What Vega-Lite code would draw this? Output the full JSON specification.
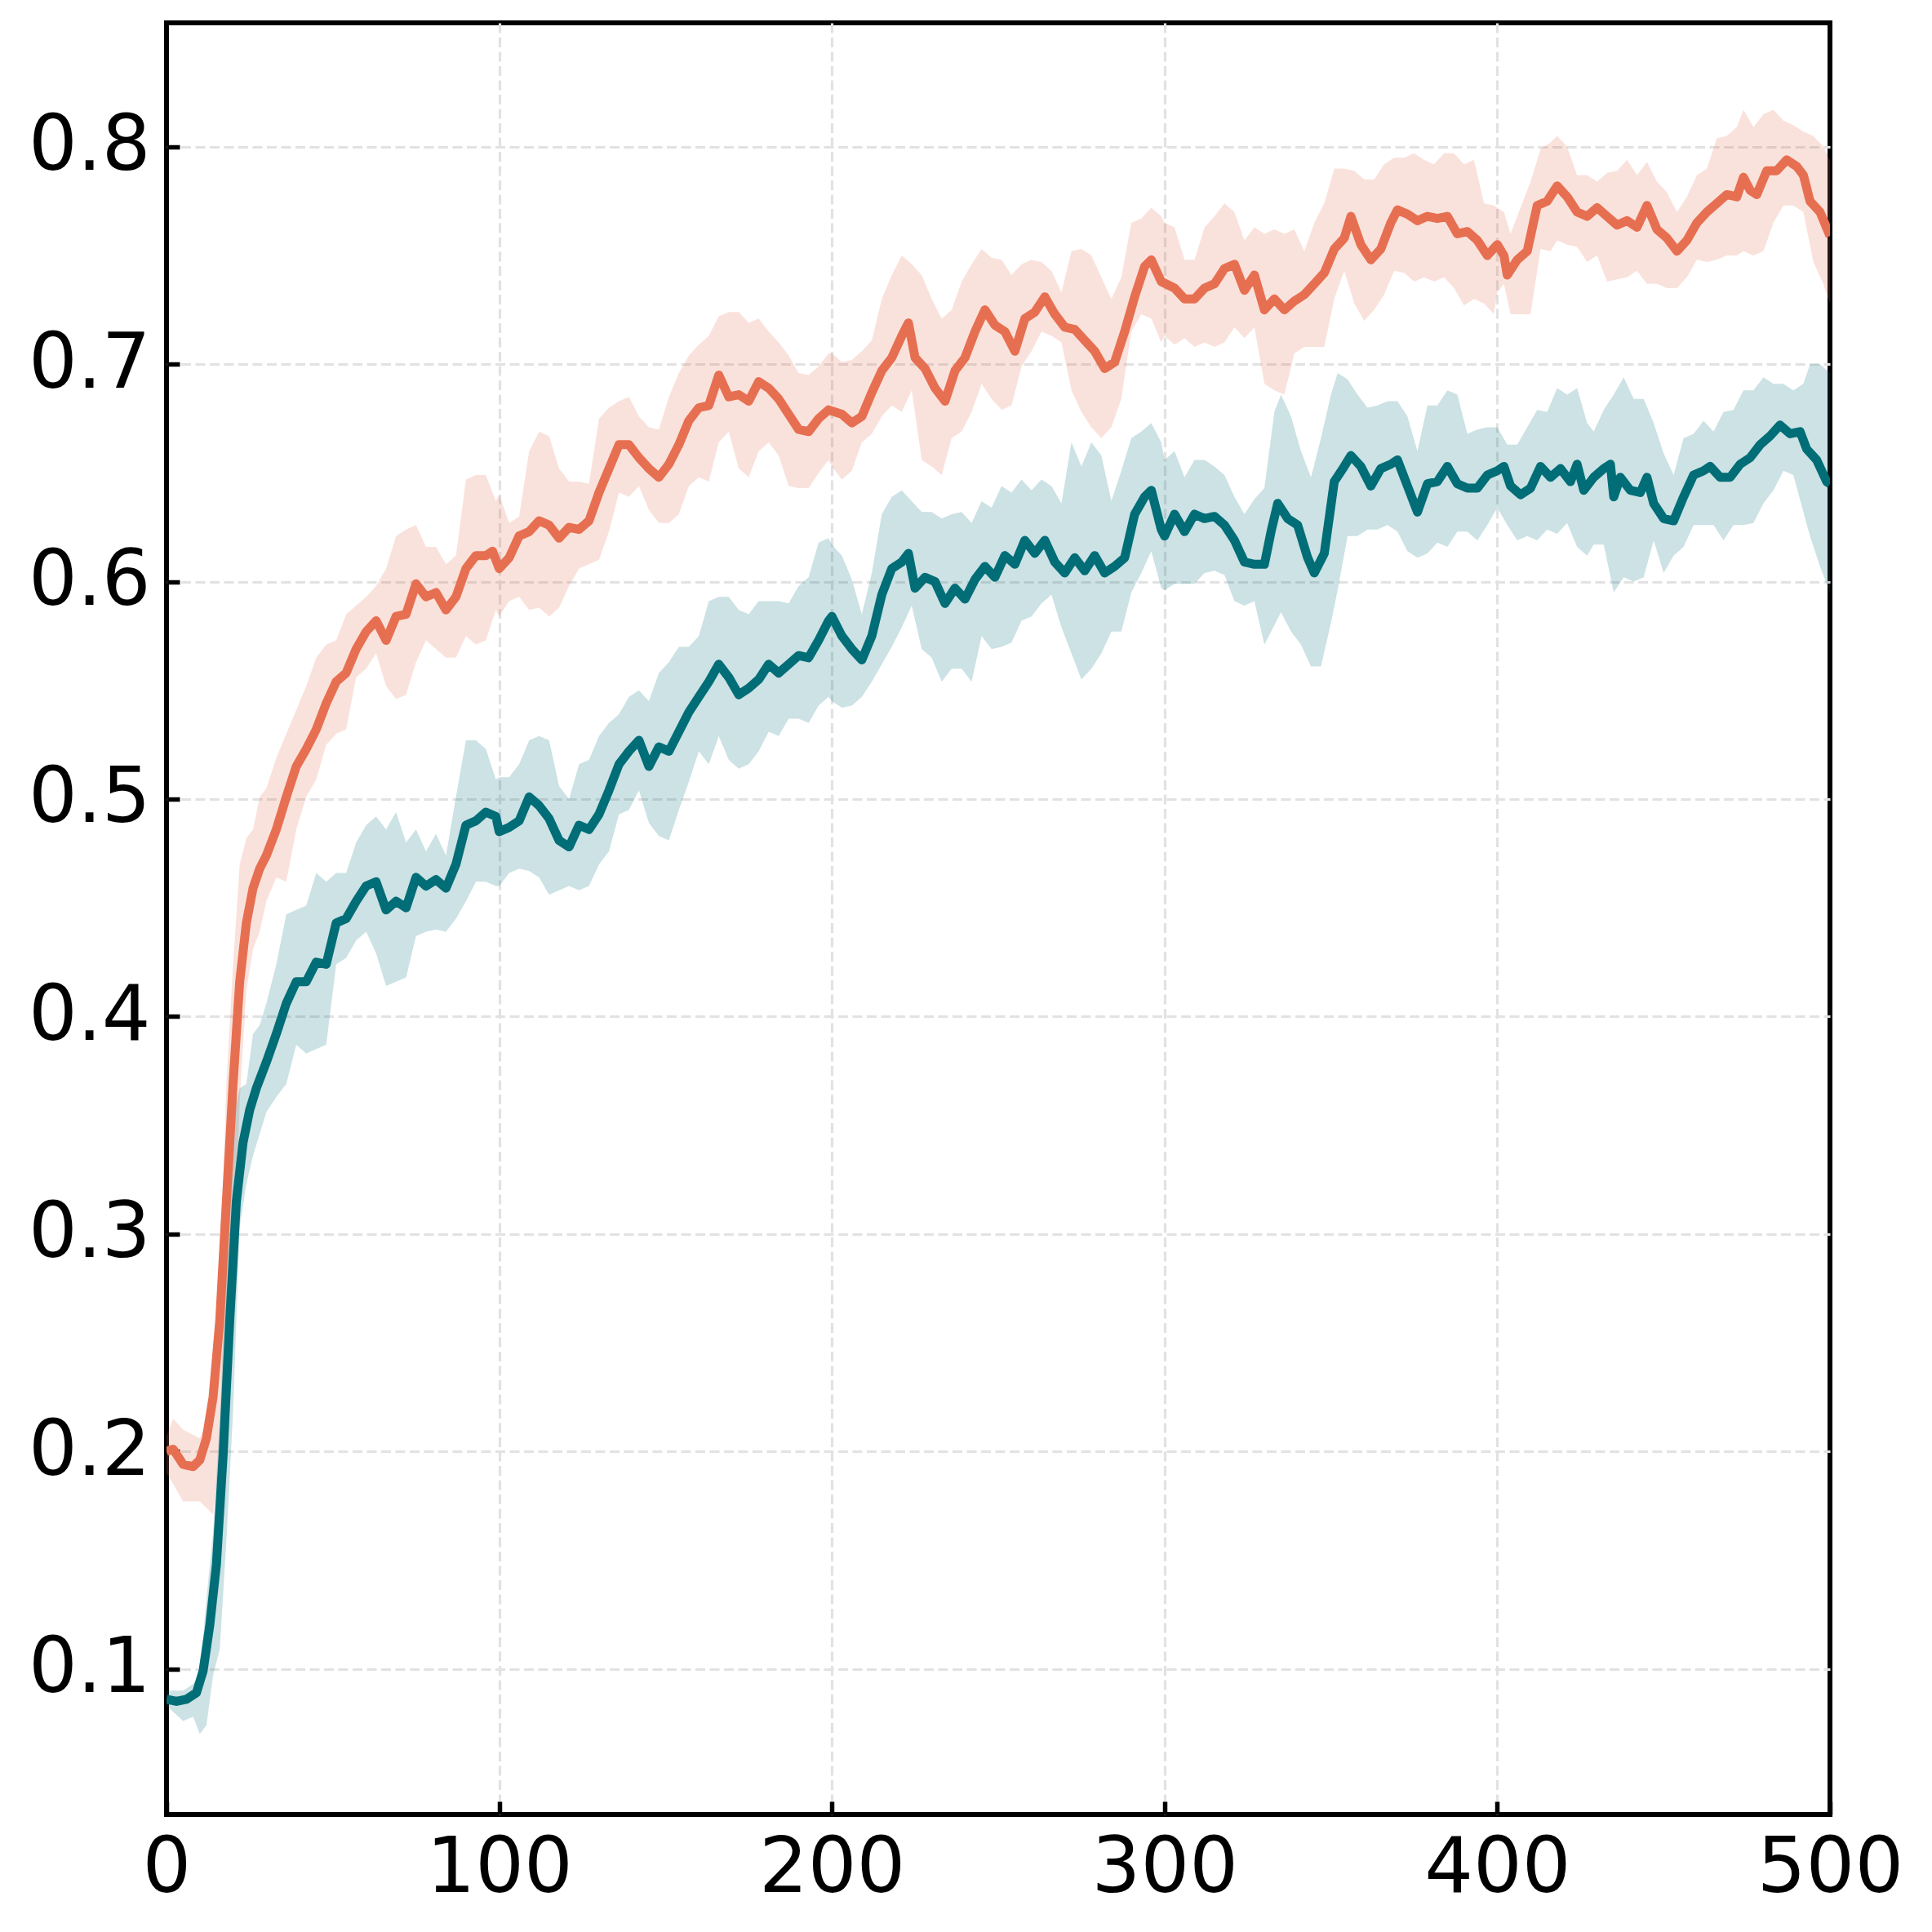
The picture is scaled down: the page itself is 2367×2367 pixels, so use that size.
{
  "$schema": "https://vega.github.io/schema/vega-lite/v6.json",
  "width": 2038,
  "height": 2195,
  "autosize": {"type": "none"},
  "padding": {"left": 204, "top": 28, "right": 125, "bottom": 144},
  "background": "white",
  "datasets": {
    "band": [
      {"step":0,"series":"A","lo":0.190,"hi":0.207},{"step":2,"series":"A","lo":0.185,"hi":0.215},{"step":5,"series":"A","lo":0.177,"hi":0.210},{"step":10,"series":"A","lo":0.177,"hi":0.206},{"step":14,"series":"A","lo":0.171,"hi":0.221},{"step":16,"series":"A","lo":0.198,"hi":0.276},{"step":18,"series":"A","lo":0.225,"hi":0.369},{"step":20,"series":"A","lo":0.276,"hi":0.424},{"step":22,"series":"A","lo":0.361,"hi":0.470},{"step":24,"series":"A","lo":0.412,"hi":0.482},{"step":26,"series":"A","lo":0.431,"hi":0.486},{"step":28,"series":"A","lo":0.439,"hi":0.501},{"step":30,"series":"A","lo":0.453,"hi":0.505},{"step":33,"series":"A","lo":0.464,"hi":0.519},{"step":36,"series":"A","lo":0.462,"hi":0.530},{"step":39,"series":"A","lo":0.486,"hi":0.541},{"step":42,"series":"A","lo":0.501,"hi":0.552},{"step":45,"series":"A","lo":0.509,"hi":0.565},{"step":48,"series":"A","lo":0.525,"hi":0.571},{"step":51,"series":"A","lo":0.530,"hi":0.573},{"step":54,"series":"A","lo":0.532,"hi":0.585},{"step":57,"series":"A","lo":0.556,"hi":0.589},{"step":60,"series":"A","lo":0.560,"hi":0.593},{"step":63,"series":"A","lo":0.567,"hi":0.598},{"step":66,"series":"A","lo":0.552,"hi":0.606},{"step":69,"series":"A","lo":0.546,"hi":0.621},{"step":72,"series":"A","lo":0.548,"hi":0.624},{"step":75,"series":"A","lo":0.563,"hi":0.626},{"step":78,"series":"A","lo":0.573,"hi":0.616},{"step":81,"series":"A","lo":0.569,"hi":0.616},{"step":84,"series":"A","lo":0.565,"hi":0.608},{"step":87,"series":"A","lo":0.565,"hi":0.612},{"step":90,"series":"A","lo":0.575,"hi":0.647},{"step":93,"series":"A","lo":0.571,"hi":0.649},{"step":96,"series":"A","lo":0.573,"hi":0.649},{"step":99,"series":"A","lo":0.587,"hi":0.637},{"step":100,"series":"A","lo":0.584,"hi":0.640},{"step":103,"series":"A","lo":0.591,"hi":0.627},{"step":106,"series":"A","lo":0.593,"hi":0.630},{"step":109,"series":"A","lo":0.587,"hi":0.660},{"step":112,"series":"A","lo":0.588,"hi":0.669},{"step":115,"series":"A","lo":0.584,"hi":0.667},{"step":118,"series":"A","lo":0.588,"hi":0.652},{"step":121,"series":"A","lo":0.598,"hi":0.646},{"step":124,"series":"A","lo":0.606,"hi":0.646},{"step":127,"series":"A","lo":0.608,"hi":0.645},{"step":130,"series":"A","lo":0.610,"hi":0.675},{"step":133,"series":"A","lo":0.623,"hi":0.680},{"step":136,"series":"A","lo":0.641,"hi":0.683},{"step":139,"series":"A","lo":0.639,"hi":0.685},{"step":142,"series":"A","lo":0.644,"hi":0.676},{"step":145,"series":"A","lo":0.633,"hi":0.671},{"step":148,"series":"A","lo":0.627,"hi":0.670},{"step":151,"series":"A","lo":0.627,"hi":0.685},{"step":154,"series":"A","lo":0.631,"hi":0.696},{"step":157,"series":"A","lo":0.644,"hi":0.704},{"step":160,"series":"A","lo":0.648,"hi":0.709},{"step":163,"series":"A","lo":0.646,"hi":0.713},{"step":166,"series":"A","lo":0.664,"hi":0.722},{"step":169,"series":"A","lo":0.669,"hi":0.724},{"step":172,"series":"A","lo":0.652,"hi":0.724},{"step":175,"series":"A","lo":0.648,"hi":0.719},{"step":178,"series":"A","lo":0.660,"hi":0.721},{"step":181,"series":"A","lo":0.664,"hi":0.715},{"step":184,"series":"A","lo":0.658,"hi":0.710},{"step":187,"series":"A","lo":0.644,"hi":0.704},{"step":190,"series":"A","lo":0.643,"hi":0.696},{"step":193,"series":"A","lo":0.643,"hi":0.695},{"step":196,"series":"A","lo":0.650,"hi":0.699},{"step":199,"series":"A","lo":0.656,"hi":0.705},{"step":200,"series":"A","lo":0.653,"hi":0.705},{"step":203,"series":"A","lo":0.647,"hi":0.701},{"step":206,"series":"A","lo":0.651,"hi":0.702},{"step":209,"series":"A","lo":0.664,"hi":0.706},{"step":212,"series":"A","lo":0.668,"hi":0.711},{"step":215,"series":"A","lo":0.676,"hi":0.730},{"step":218,"series":"A","lo":0.681,"hi":0.741},{"step":221,"series":"A","lo":0.678,"hi":0.750},{"step":224,"series":"A","lo":0.688,"hi":0.746},{"step":227,"series":"A","lo":0.656,"hi":0.741},{"step":230,"series":"A","lo":0.653,"hi":0.730},{"step":233,"series":"A","lo":0.649,"hi":0.721},{"step":236,"series":"A","lo":0.666,"hi":0.725},{"step":239,"series":"A","lo":0.669,"hi":0.738},{"step":242,"series":"A","lo":0.678,"hi":0.746},{"step":245,"series":"A","lo":0.691,"hi":0.753},{"step":248,"series":"A","lo":0.684,"hi":0.749},{"step":251,"series":"A","lo":0.679,"hi":0.748},{"step":254,"series":"A","lo":0.681,"hi":0.741},{"step":257,"series":"A","lo":0.699,"hi":0.746},{"step":260,"series":"A","lo":0.706,"hi":0.748},{"step":263,"series":"A","lo":0.715,"hi":0.747},{"step":266,"series":"A","lo":0.713,"hi":0.743},{"step":269,"series":"A","lo":0.710,"hi":0.733},{"step":272,"series":"A","lo":0.688,"hi":0.752},{"step":275,"series":"A","lo":0.678,"hi":0.753},{"step":278,"series":"A","lo":0.671,"hi":0.750},{"step":281,"series":"A","lo":0.666,"hi":0.740},{"step":284,"series":"A","lo":0.671,"hi":0.730},{"step":287,"series":"A","lo":0.684,"hi":0.740},{"step":290,"series":"A","lo":0.715,"hi":0.765},{"step":293,"series":"A","lo":0.723,"hi":0.767},{"step":296,"series":"A","lo":0.721,"hi":0.772},{"step":299,"series":"A","lo":0.710,"hi":0.768},{"step":300,"series":"A","lo":0.713,"hi":0.765},{"step":303,"series":"A","lo":0.709,"hi":0.763},{"step":306,"series":"A","lo":0.712,"hi":0.748},{"step":309,"series":"A","lo":0.708,"hi":0.748},{"step":312,"series":"A","lo":0.710,"hi":0.763},{"step":315,"series":"A","lo":0.708,"hi":0.768},{"step":318,"series":"A","lo":0.710,"hi":0.774},{"step":321,"series":"A","lo":0.717,"hi":0.770},{"step":324,"series":"A","lo":0.712,"hi":0.757},{"step":327,"series":"A","lo":0.717,"hi":0.763},{"step":330,"series":"A","lo":0.691,"hi":0.760},{"step":333,"series":"A","lo":0.688,"hi":0.762},{"step":336,"series":"A","lo":0.686,"hi":0.760},{"step":339,"series":"A","lo":0.705,"hi":0.762},{"step":342,"series":"A","lo":0.708,"hi":0.752},{"step":345,"series":"A","lo":0.708,"hi":0.765},{"step":348,"series":"A","lo":0.708,"hi":0.774},{"step":351,"series":"A","lo":0.730,"hi":0.790},{"step":354,"series":"A","lo":0.743,"hi":0.790},{"step":357,"series":"A","lo":0.728,"hi":0.789},{"step":360,"series":"A","lo":0.720,"hi":0.785},{"step":363,"series":"A","lo":0.725,"hi":0.785},{"step":366,"series":"A","lo":0.732,"hi":0.792},{"step":369,"series":"A","lo":0.743,"hi":0.795},{"step":372,"series":"A","lo":0.742,"hi":0.795},{"step":375,"series":"A","lo":0.738,"hi":0.797},{"step":378,"series":"A","lo":0.740,"hi":0.794},{"step":381,"series":"A","lo":0.738,"hi":0.792},{"step":384,"series":"A","lo":0.740,"hi":0.797},{"step":387,"series":"A","lo":0.735,"hi":0.797},{"step":390,"series":"A","lo":0.727,"hi":0.792},{"step":393,"series":"A","lo":0.730,"hi":0.794},{"step":396,"series":"A","lo":0.728,"hi":0.774},{"step":399,"series":"A","lo":0.723,"hi":0.773},{"step":400,"series":"A","lo":0.733,"hi":0.772},{"step":402,"series":"A","lo":0.737,"hi":0.770},{"step":404,"series":"A","lo":0.723,"hi":0.760},{"step":407,"series":"A","lo":0.723,"hi":0.772},{"step":410,"series":"A","lo":0.723,"hi":0.784},{"step":413,"series":"A","lo":0.753,"hi":0.799},{"step":416,"series":"A","lo":0.752,"hi":0.802},{"step":418,"series":"A","lo":0.757,"hi":0.805},{"step":421,"series":"A","lo":0.755,"hi":0.800},{"step":424,"series":"A","lo":0.754,"hi":0.787},{"step":427,"series":"A","lo":0.747,"hi":0.787},{"step":430,"series":"A","lo":0.750,"hi":0.784},{"step":433,"series":"A","lo":0.738,"hi":0.788},{"step":436,"series":"A","lo":0.739,"hi":0.789},{"step":439,"series":"A","lo":0.740,"hi":0.794},{"step":442,"series":"A","lo":0.743,"hi":0.787},{"step":445,"series":"A","lo":0.737,"hi":0.793},{"step":448,"series":"A","lo":0.737,"hi":0.784},{"step":451,"series":"A","lo":0.735,"hi":0.779},{"step":454,"series":"A","lo":0.735,"hi":0.770},{"step":457,"series":"A","lo":0.740,"hi":0.777},{"step":460,"series":"A","lo":0.748,"hi":0.787},{"step":463,"series":"A","lo":0.747,"hi":0.790},{"step":466,"series":"A","lo":0.748,"hi":0.804},{"step":469,"series":"A","lo":0.750,"hi":0.805},{"step":472,"series":"A","lo":0.750,"hi":0.809},{"step":474,"series":"A","lo":0.752,"hi":0.817},{"step":477,"series":"A","lo":0.750,"hi":0.809},{"step":480,"series":"A","lo":0.752,"hi":0.815},{"step":483,"series":"A","lo":0.765,"hi":0.817},{"step":486,"series":"A","lo":0.773,"hi":0.812},{"step":489,"series":"A","lo":0.773,"hi":0.810},{"step":492,"series":"A","lo":0.770,"hi":0.807},{"step":495,"series":"A","lo":0.747,"hi":0.805},{"step":498,"series":"A","lo":0.737,"hi":0.800},{"step":500,"series":"A","lo":0.728,"hi":0.794},
      {"step":0,"series":"B","lo":0.083,"hi":0.090},{"step":5,"series":"B","lo":0.076,"hi":0.090},{"step":8,"series":"B","lo":0.078,"hi":0.093},{"step":10,"series":"B","lo":0.070,"hi":0.097},{"step":12,"series":"B","lo":0.074,"hi":0.132},{"step":14,"series":"B","lo":0.097,"hi":0.163},{"step":16,"series":"B","lo":0.109,"hi":0.214},{"step":18,"series":"B","lo":0.159,"hi":0.291},{"step":20,"series":"B","lo":0.218,"hi":0.354},{"step":22,"series":"B","lo":0.303,"hi":0.367},{"step":24,"series":"B","lo":0.323,"hi":0.369},{"step":26,"series":"B","lo":0.336,"hi":0.392},{"step":28,"series":"B","lo":0.346,"hi":0.396},{"step":30,"series":"B","lo":0.356,"hi":0.406},{"step":33,"series":"B","lo":0.363,"hi":0.424},{"step":36,"series":"B","lo":0.369,"hi":0.447},{"step":39,"series":"B","lo":0.387,"hi":0.449},{"step":42,"series":"B","lo":0.383,"hi":0.451},{"step":45,"series":"B","lo":0.385,"hi":0.466},{"step":48,"series":"B","lo":0.387,"hi":0.462},{"step":51,"series":"B","lo":0.424,"hi":0.466},{"step":54,"series":"B","lo":0.427,"hi":0.466},{"step":57,"series":"B","lo":0.435,"hi":0.480},{"step":60,"series":"B","lo":0.439,"hi":0.488},{"step":63,"series":"B","lo":0.429,"hi":0.492},{"step":66,"series":"B","lo":0.414,"hi":0.486},{"step":69,"series":"B","lo":0.416,"hi":0.494},{"step":72,"series":"B","lo":0.418,"hi":0.480},{"step":75,"series":"B","lo":0.437,"hi":0.486},{"step":78,"series":"B","lo":0.439,"hi":0.476},{"step":81,"series":"B","lo":0.440,"hi":0.484},{"step":84,"series":"B","lo":0.439,"hi":0.474},{"step":87,"series":"B","lo":0.445,"hi":0.501},{"step":90,"series":"B","lo":0.453,"hi":0.527},{"step":93,"series":"B","lo":0.462,"hi":0.527},{"step":96,"series":"B","lo":0.462,"hi":0.523},{"step":99,"series":"B","lo":0.460,"hi":0.509},{"step":100,"series":"B","lo":0.460,"hi":0.510},{"step":103,"series":"B","lo":0.466,"hi":0.510},{"step":106,"series":"B","lo":0.468,"hi":0.516},{"step":109,"series":"B","lo":0.467,"hi":0.527},{"step":112,"series":"B","lo":0.464,"hi":0.529},{"step":115,"series":"B","lo":0.456,"hi":0.527},{"step":118,"series":"B","lo":0.458,"hi":0.506},{"step":121,"series":"B","lo":0.460,"hi":0.500},{"step":124,"series":"B","lo":0.458,"hi":0.516},{"step":127,"series":"B","lo":0.460,"hi":0.518},{"step":130,"series":"B","lo":0.470,"hi":0.529},{"step":133,"series":"B","lo":0.476,"hi":0.535},{"step":136,"series":"B","lo":0.493,"hi":0.539},{"step":139,"series":"B","lo":0.495,"hi":0.547},{"step":142,"series":"B","lo":0.504,"hi":0.550},{"step":145,"series":"B","lo":0.489,"hi":0.545},{"step":148,"series":"B","lo":0.483,"hi":0.558},{"step":151,"series":"B","lo":0.481,"hi":0.563},{"step":154,"series":"B","lo":0.495,"hi":0.570},{"step":157,"series":"B","lo":0.508,"hi":0.570},{"step":160,"series":"B","lo":0.522,"hi":0.575},{"step":163,"series":"B","lo":0.516,"hi":0.591},{"step":166,"series":"B","lo":0.529,"hi":0.593},{"step":169,"series":"B","lo":0.518,"hi":0.593},{"step":172,"series":"B","lo":0.514,"hi":0.587},{"step":175,"series":"B","lo":0.516,"hi":0.585},{"step":178,"series":"B","lo":0.522,"hi":0.591},{"step":181,"series":"B","lo":0.531,"hi":0.591},{"step":184,"series":"B","lo":0.529,"hi":0.591},{"step":187,"series":"B","lo":0.537,"hi":0.590},{"step":190,"series":"B","lo":0.537,"hi":0.598},{"step":193,"series":"B","lo":0.535,"hi":0.602},{"step":196,"series":"B","lo":0.543,"hi":0.618},{"step":199,"series":"B","lo":0.547,"hi":0.620},{"step":200,"series":"B","lo":0.545,"hi":0.617},{"step":203,"series":"B","lo":0.542,"hi":0.612},{"step":206,"series":"B","lo":0.543,"hi":0.601},{"step":209,"series":"B","lo":0.547,"hi":0.585},{"step":212,"series":"B","lo":0.554,"hi":0.604},{"step":215,"series":"B","lo":0.562,"hi":0.631},{"step":218,"series":"B","lo":0.570,"hi":0.639},{"step":221,"series":"B","lo":0.579,"hi":0.642},{"step":224,"series":"B","lo":0.589,"hi":0.637},{"step":227,"series":"B","lo":0.569,"hi":0.632},{"step":230,"series":"B","lo":0.565,"hi":0.632},{"step":233,"series":"B","lo":0.554,"hi":0.629},{"step":236,"series":"B","lo":0.560,"hi":0.631},{"step":239,"series":"B","lo":0.560,"hi":0.632},{"step":242,"series":"B","lo":0.554,"hi":0.627},{"step":245,"series":"B","lo":0.575,"hi":0.637},{"step":248,"series":"B","lo":0.569,"hi":0.634},{"step":251,"series":"B","lo":0.570,"hi":0.644},{"step":254,"series":"B","lo":0.572,"hi":0.641},{"step":257,"series":"B","lo":0.582,"hi":0.647},{"step":260,"series":"B","lo":0.584,"hi":0.642},{"step":263,"series":"B","lo":0.590,"hi":0.647},{"step":266,"series":"B","lo":0.594,"hi":0.644},{"step":269,"series":"B","lo":0.579,"hi":0.636},{"step":272,"series":"B","lo":0.567,"hi":0.664},{"step":275,"series":"B","lo":0.555,"hi":0.653},{"step":278,"series":"B","lo":0.560,"hi":0.664},{"step":281,"series":"B","lo":0.567,"hi":0.658},{"step":284,"series":"B","lo":0.577,"hi":0.637},{"step":287,"series":"B","lo":0.577,"hi":0.651},{"step":290,"series":"B","lo":0.595,"hi":0.666},{"step":293,"series":"B","lo":0.604,"hi":0.669},{"step":296,"series":"B","lo":0.614,"hi":0.673},{"step":299,"series":"B","lo":0.597,"hi":0.664},{"step":300,"series":"B","lo":0.596,"hi":0.656},{"step":303,"series":"B","lo":0.599,"hi":0.660},{"step":306,"series":"B","lo":0.599,"hi":0.648},{"step":309,"series":"B","lo":0.599,"hi":0.656},{"step":312,"series":"B","lo":0.604,"hi":0.656},{"step":315,"series":"B","lo":0.605,"hi":0.653},{"step":318,"series":"B","lo":0.603,"hi":0.649},{"step":321,"series":"B","lo":0.591,"hi":0.639},{"step":324,"series":"B","lo":0.589,"hi":0.631},{"step":327,"series":"B","lo":0.591,"hi":0.638},{"step":330,"series":"B","lo":0.571,"hi":0.643},{"step":333,"series":"B","lo":0.580,"hi":0.678},{"step":335,"series":"B","lo":0.586,"hi":0.686},{"step":338,"series":"B","lo":0.577,"hi":0.676},{"step":341,"series":"B","lo":0.571,"hi":0.660},{"step":344,"series":"B","lo":0.561,"hi":0.648},{"step":347,"series":"B","lo":0.561,"hi":0.666},{"step":350,"series":"B","lo":0.581,"hi":0.686},{"step":352,"series":"B","lo":0.596,"hi":0.696},{"step":355,"series":"B","lo":0.621,"hi":0.693},{"step":358,"series":"B","lo":0.621,"hi":0.686},{"step":361,"series":"B","lo":0.624,"hi":0.680},{"step":364,"series":"B","lo":0.624,"hi":0.681},{"step":367,"series":"B","lo":0.626,"hi":0.683},{"step":370,"series":"B","lo":0.623,"hi":0.683},{"step":373,"series":"B","lo":0.614,"hi":0.676},{"step":376,"series":"B","lo":0.611,"hi":0.660},{"step":379,"series":"B","lo":0.613,"hi":0.681},{"step":382,"series":"B","lo":0.618,"hi":0.681},{"step":385,"series":"B","lo":0.616,"hi":0.688},{"step":388,"series":"B","lo":0.623,"hi":0.686},{"step":391,"series":"B","lo":0.623,"hi":0.668},{"step":394,"series":"B","lo":0.619,"hi":0.670},{"step":397,"series":"B","lo":0.626,"hi":0.671},{"step":400,"series":"B","lo":0.634,"hi":0.671},{"step":403,"series":"B","lo":0.626,"hi":0.663},{"step":406,"series":"B","lo":0.619,"hi":0.663},{"step":409,"series":"B","lo":0.621,"hi":0.671},{"step":412,"series":"B","lo":0.619,"hi":0.679},{"step":415,"series":"B","lo":0.624,"hi":0.678},{"step":418,"series":"B","lo":0.622,"hi":0.689},{"step":421,"series":"B","lo":0.627,"hi":0.686},{"step":424,"series":"B","lo":0.616,"hi":0.689},{"step":427,"series":"B","lo":0.612,"hi":0.673},{"step":429,"series":"B","lo":0.617,"hi":0.669},{"step":432,"series":"B","lo":0.617,"hi":0.679},{"step":435,"series":"B","lo":0.595,"hi":0.686},{"step":438,"series":"B","lo":0.602,"hi":0.694},{"step":441,"series":"B","lo":0.600,"hi":0.684},{"step":444,"series":"B","lo":0.602,"hi":0.684},{"step":447,"series":"B","lo":0.619,"hi":0.673},{"step":450,"series":"B","lo":0.604,"hi":0.659},{"step":453,"series":"B","lo":0.612,"hi":0.649},{"step":456,"series":"B","lo":0.616,"hi":0.666},{"step":459,"series":"B","lo":0.626,"hi":0.668},{"step":462,"series":"B","lo":0.626,"hi":0.674},{"step":465,"series":"B","lo":0.626,"hi":0.669},{"step":468,"series":"B","lo":0.619,"hi":0.678},{"step":471,"series":"B","lo":0.626,"hi":0.679},{"step":474,"series":"B","lo":0.626,"hi":0.688},{"step":477,"series":"B","lo":0.627,"hi":0.688},{"step":480,"series":"B","lo":0.636,"hi":0.694},{"step":483,"series":"B","lo":0.642,"hi":0.691},{"step":486,"series":"B","lo":0.651,"hi":0.691},{"step":489,"series":"B","lo":0.649,"hi":0.688},{"step":492,"series":"B","lo":0.632,"hi":0.691},{"step":494,"series":"B","lo":0.621,"hi":0.700},{"step":497,"series":"B","lo":0.607,"hi":0.700},{"step":500,"series":"B","lo":0.595,"hi":0.696}
    ],
    "mean": [
      {"step":0,"series":"A","value":0.200},{"step":2,"series":"A","value":0.201},{"step":5,"series":"A","value":0.194},{"step":8,"series":"A","value":0.193},{"step":10,"series":"A","value":0.196},{"step":12,"series":"A","value":0.206},{"step":14,"series":"A","value":0.225},{"step":16,"series":"A","value":0.260},{"step":18,"series":"A","value":0.315},{"step":20,"series":"A","value":0.369},{"step":22,"series":"A","value":0.416},{"step":24,"series":"A","value":0.443},{"step":26,"series":"A","value":0.459},{"step":28,"series":"A","value":0.468},{"step":30,"series":"A","value":0.474},{"step":33,"series":"A","value":0.486},{"step":36,"series":"A","value":0.501},{"step":39,"series":"A","value":0.515},{"step":42,"series":"A","value":0.523},{"step":45,"series":"A","value":0.532},{"step":48,"series":"A","value":0.544},{"step":51,"series":"A","value":0.554},{"step":54,"series":"A","value":0.558},{"step":57,"series":"A","value":0.569},{"step":60,"series":"A","value":0.577},{"step":63,"series":"A","value":0.582},{"step":66,"series":"A","value":0.573},{"step":69,"series":"A","value":0.584},{"step":72,"series":"A","value":0.585},{"step":75,"series":"A","value":0.599},{"step":78,"series":"A","value":0.593},{"step":81,"series":"A","value":0.595},{"step":84,"series":"A","value":0.587},{"step":87,"series":"A","value":0.593},{"step":90,"series":"A","value":0.606},{"step":93,"series":"A","value":0.612},{"step":96,"series":"A","value":0.612},{"step":98,"series":"A","value":0.614},{"step":100,"series":"A","value":0.606},{"step":103,"series":"A","value":0.611},{"step":106,"series":"A","value":0.621},{"step":109,"series":"A","value":0.623},{"step":112,"series":"A","value":0.628},{"step":115,"series":"A","value":0.626},{"step":118,"series":"A","value":0.620},{"step":121,"series":"A","value":0.625},{"step":124,"series":"A","value":0.624},{"step":127,"series":"A","value":0.628},{"step":130,"series":"A","value":0.641},{"step":133,"series":"A","value":0.652},{"step":136,"series":"A","value":0.663},{"step":139,"series":"A","value":0.663},{"step":142,"series":"A","value":0.657},{"step":145,"series":"A","value":0.652},{"step":148,"series":"A","value":0.648},{"step":151,"series":"A","value":0.654},{"step":154,"series":"A","value":0.663},{"step":157,"series":"A","value":0.674},{"step":160,"series":"A","value":0.680},{"step":163,"series":"A","value":0.681},{"step":166,"series":"A","value":0.695},{"step":169,"series":"A","value":0.685},{"step":172,"series":"A","value":0.686},{"step":175,"series":"A","value":0.683},{"step":178,"series":"A","value":0.692},{"step":181,"series":"A","value":0.689},{"step":184,"series":"A","value":0.684},{"step":187,"series":"A","value":0.677},{"step":190,"series":"A","value":0.670},{"step":193,"series":"A","value":0.669},{"step":196,"series":"A","value":0.675},{"step":199,"series":"A","value":0.679},{"step":203,"series":"A","value":0.677},{"step":206,"series":"A","value":0.673},{"step":209,"series":"A","value":0.676},{"step":212,"series":"A","value":0.687},{"step":215,"series":"A","value":0.697},{"step":218,"series":"A","value":0.703},{"step":221,"series":"A","value":0.713},{"step":223,"series":"A","value":0.719},{"step":225,"series":"A","value":0.703},{"step":228,"series":"A","value":0.698},{"step":231,"series":"A","value":0.689},{"step":234,"series":"A","value":0.683},{"step":237,"series":"A","value":0.697},{"step":240,"series":"A","value":0.703},{"step":243,"series":"A","value":0.715},{"step":246,"series":"A","value":0.725},{"step":249,"series":"A","value":0.718},{"step":252,"series":"A","value":0.715},{"step":255,"series":"A","value":0.706},{"step":258,"series":"A","value":0.721},{"step":261,"series":"A","value":0.724},{"step":264,"series":"A","value":0.731},{"step":267,"series":"A","value":0.723},{"step":270,"series":"A","value":0.717},{"step":273,"series":"A","value":0.716},{"step":276,"series":"A","value":0.711},{"step":279,"series":"A","value":0.706},{"step":282,"series":"A","value":0.698},{"step":285,"series":"A","value":0.701},{"step":288,"series":"A","value":0.715},{"step":291,"series":"A","value":0.731},{"step":294,"series":"A","value":0.745},{"step":296,"series":"A","value":0.748},{"step":299,"series":"A","value":0.738},{"step":303,"series":"A","value":0.735},{"step":306,"series":"A","value":0.730},{"step":309,"series":"A","value":0.730},{"step":312,"series":"A","value":0.735},{"step":315,"series":"A","value":0.737},{"step":318,"series":"A","value":0.744},{"step":321,"series":"A","value":0.746},{"step":324,"series":"A","value":0.734},{"step":327,"series":"A","value":0.741},{"step":330,"series":"A","value":0.725},{"step":333,"series":"A","value":0.730},{"step":336,"series":"A","value":0.725},{"step":339,"series":"A","value":0.729},{"step":342,"series":"A","value":0.732},{"step":345,"series":"A","value":0.737},{"step":348,"series":"A","value":0.742},{"step":351,"series":"A","value":0.753},{"step":354,"series":"A","value":0.758},{"step":356,"series":"A","value":0.768},{"step":359,"series":"A","value":0.755},{"step":362,"series":"A","value":0.748},{"step":365,"series":"A","value":0.753},{"step":368,"series":"A","value":0.765},{"step":370,"series":"A","value":0.771},{"step":373,"series":"A","value":0.769},{"step":376,"series":"A","value":0.766},{"step":379,"series":"A","value":0.768},{"step":382,"series":"A","value":0.767},{"step":385,"series":"A","value":0.768},{"step":388,"series":"A","value":0.760},{"step":391,"series":"A","value":0.761},{"step":394,"series":"A","value":0.757},{"step":397,"series":"A","value":0.750},{"step":400,"series":"A","value":0.755},{"step":402,"series":"A","value":0.750},{"step":403,"series":"A","value":0.741},{"step":406,"series":"A","value":0.748},{"step":409,"series":"A","value":0.752},{"step":412,"series":"A","value":0.773},{"step":415,"series":"A","value":0.775},{"step":418,"series":"A","value":0.782},{"step":421,"series":"A","value":0.777},{"step":424,"series":"A","value":0.770},{"step":427,"series":"A","value":0.768},{"step":430,"series":"A","value":0.772},{"step":433,"series":"A","value":0.768},{"step":436,"series":"A","value":0.764},{"step":439,"series":"A","value":0.766},{"step":442,"series":"A","value":0.763},{"step":445,"series":"A","value":0.773},{"step":448,"series":"A","value":0.762},{"step":451,"series":"A","value":0.758},{"step":454,"series":"A","value":0.752},{"step":457,"series":"A","value":0.757},{"step":460,"series":"A","value":0.765},{"step":463,"series":"A","value":0.770},{"step":466,"series":"A","value":0.774},{"step":469,"series":"A","value":0.778},{"step":472,"series":"A","value":0.777},{"step":474,"series":"A","value":0.786},{"step":476,"series":"A","value":0.780},{"step":478,"series":"A","value":0.778},{"step":481,"series":"A","value":0.789},{"step":484,"series":"A","value":0.789},{"step":487,"series":"A","value":0.794},{"step":490,"series":"A","value":0.791},{"step":492,"series":"A","value":0.787},{"step":494,"series":"A","value":0.775},{"step":497,"series":"A","value":0.770},{"step":500,"series":"A","value":0.759},
      {"step":0,"series":"B","value":0.086},{"step":3,"series":"B","value":0.085},{"step":6,"series":"B","value":0.086},{"step":9,"series":"B","value":0.089},{"step":11,"series":"B","value":0.099},{"step":13,"series":"B","value":0.120},{"step":15,"series":"B","value":0.148},{"step":17,"series":"B","value":0.198},{"step":19,"series":"B","value":0.260},{"step":21,"series":"B","value":0.315},{"step":23,"series":"B","value":0.342},{"step":25,"series":"B","value":0.357},{"step":27,"series":"B","value":0.367},{"step":30,"series":"B","value":0.379},{"step":33,"series":"B","value":0.392},{"step":36,"series":"B","value":0.406},{"step":39,"series":"B","value":0.416},{"step":42,"series":"B","value":0.416},{"step":45,"series":"B","value":0.425},{"step":48,"series":"B","value":0.424},{"step":51,"series":"B","value":0.443},{"step":54,"series":"B","value":0.445},{"step":57,"series":"B","value":0.453},{"step":60,"series":"B","value":0.460},{"step":63,"series":"B","value":0.462},{"step":66,"series":"B","value":0.449},{"step":69,"series":"B","value":0.453},{"step":72,"series":"B","value":0.450},{"step":75,"series":"B","value":0.464},{"step":78,"series":"B","value":0.460},{"step":81,"series":"B","value":0.463},{"step":84,"series":"B","value":0.459},{"step":87,"series":"B","value":0.470},{"step":90,"series":"B","value":0.488},{"step":93,"series":"B","value":0.490},{"step":96,"series":"B","value":0.494},{"step":99,"series":"B","value":0.492},{"step":100,"series":"B","value":0.485},{"step":103,"series":"B","value":0.487},{"step":106,"series":"B","value":0.490},{"step":109,"series":"B","value":0.501},{"step":112,"series":"B","value":0.497},{"step":115,"series":"B","value":0.491},{"step":118,"series":"B","value":0.481},{"step":121,"series":"B","value":0.478},{"step":124,"series":"B","value":0.488},{"step":127,"series":"B","value":0.486},{"step":130,"series":"B","value":0.493},{"step":133,"series":"B","value":0.504},{"step":136,"series":"B","value":0.516},{"step":139,"series":"B","value":0.522},{"step":142,"series":"B","value":0.527},{"step":145,"series":"B","value":0.515},{"step":148,"series":"B","value":0.524},{"step":151,"series":"B","value":0.522},{"step":154,"series":"B","value":0.531},{"step":157,"series":"B","value":0.540},{"step":160,"series":"B","value":0.547},{"step":163,"series":"B","value":0.554},{"step":166,"series":"B","value":0.562},{"step":169,"series":"B","value":0.556},{"step":172,"series":"B","value":0.548},{"step":175,"series":"B","value":0.551},{"step":178,"series":"B","value":0.555},{"step":181,"series":"B","value":0.562},{"step":184,"series":"B","value":0.558},{"step":187,"series":"B","value":0.562},{"step":190,"series":"B","value":0.566},{"step":193,"series":"B","value":0.565},{"step":196,"series":"B","value":0.573},{"step":199,"series":"B","value":0.582},{"step":200,"series":"B","value":0.584},{"step":203,"series":"B","value":0.575},{"step":206,"series":"B","value":0.569},{"step":209,"series":"B","value":0.564},{"step":212,"series":"B","value":0.575},{"step":215,"series":"B","value":0.594},{"step":218,"series":"B","value":0.606},{"step":221,"series":"B","value":0.609},{"step":223,"series":"B","value":0.613},{"step":225,"series":"B","value":0.597},{"step":228,"series":"B","value":0.602},{"step":231,"series":"B","value":0.600},{"step":234,"series":"B","value":0.590},{"step":237,"series":"B","value":0.597},{"step":240,"series":"B","value":0.592},{"step":243,"series":"B","value":0.601},{"step":246,"series":"B","value":0.607},{"step":249,"series":"B","value":0.602},{"step":252,"series":"B","value":0.612},{"step":255,"series":"B","value":0.608},{"step":258,"series":"B","value":0.619},{"step":261,"series":"B","value":0.613},{"step":264,"series":"B","value":0.619},{"step":267,"series":"B","value":0.609},{"step":270,"series":"B","value":0.604},{"step":273,"series":"B","value":0.611},{"step":276,"series":"B","value":0.605},{"step":279,"series":"B","value":0.612},{"step":282,"series":"B","value":0.604},{"step":285,"series":"B","value":0.607},{"step":288,"series":"B","value":0.611},{"step":291,"series":"B","value":0.631},{"step":294,"series":"B","value":0.639},{"step":296,"series":"B","value":0.642},{"step":299,"series":"B","value":0.624},{"step":300,"series":"B","value":0.621},{"step":303,"series":"B","value":0.631},{"step":306,"series":"B","value":0.623},{"step":309,"series":"B","value":0.631},{"step":312,"series":"B","value":0.629},{"step":315,"series":"B","value":0.630},{"step":318,"series":"B","value":0.626},{"step":321,"series":"B","value":0.619},{"step":324,"series":"B","value":0.609},{"step":327,"series":"B","value":0.608},{"step":330,"series":"B","value":0.608},{"step":332,"series":"B","value":0.623},{"step":334,"series":"B","value":0.636},{"step":337,"series":"B","value":0.629},{"step":340,"series":"B","value":0.626},{"step":343,"series":"B","value":0.611},{"step":345,"series":"B","value":0.604},{"step":348,"series":"B","value":0.613},{"step":351,"series":"B","value":0.646},{"step":354,"series":"B","value":0.653},{"step":356,"series":"B","value":0.658},{"step":359,"series":"B","value":0.653},{"step":362,"series":"B","value":0.644},{"step":365,"series":"B","value":0.652},{"step":368,"series":"B","value":0.654},{"step":370,"series":"B","value":0.656},{"step":373,"series":"B","value":0.644},{"step":376,"series":"B","value":0.632},{"step":379,"series":"B","value":0.645},{"step":382,"series":"B","value":0.646},{"step":385,"series":"B","value":0.653},{"step":388,"series":"B","value":0.645},{"step":391,"series":"B","value":0.643},{"step":394,"series":"B","value":0.643},{"step":397,"series":"B","value":0.649},{"step":400,"series":"B","value":0.651},{"step":402,"series":"B","value":0.653},{"step":404,"series":"B","value":0.644},{"step":407,"series":"B","value":0.640},{"step":410,"series":"B","value":0.643},{"step":413,"series":"B","value":0.653},{"step":416,"series":"B","value":0.648},{"step":419,"series":"B","value":0.652},{"step":422,"series":"B","value":0.646},{"step":424,"series":"B","value":0.654},{"step":426,"series":"B","value":0.642},{"step":429,"series":"B","value":0.648},{"step":432,"series":"B","value":0.652},{"step":434,"series":"B","value":0.654},{"step":435,"series":"B","value":0.639},{"step":437,"series":"B","value":0.648},{"step":440,"series":"B","value":0.642},{"step":443,"series":"B","value":0.641},{"step":445,"series":"B","value":0.648},{"step":447,"series":"B","value":0.636},{"step":450,"series":"B","value":0.629},{"step":453,"series":"B","value":0.628},{"step":456,"series":"B","value":0.639},{"step":459,"series":"B","value":0.649},{"step":462,"series":"B","value":0.651},{"step":464,"series":"B","value":0.653},{"step":467,"series":"B","value":0.648},{"step":470,"series":"B","value":0.648},{"step":473,"series":"B","value":0.654},{"step":476,"series":"B","value":0.657},{"step":479,"series":"B","value":0.663},{"step":482,"series":"B","value":0.667},{"step":485,"series":"B","value":0.672},{"step":488,"series":"B","value":0.668},{"step":491,"series":"B","value":0.669},{"step":493,"series":"B","value":0.661},{"step":496,"series":"B","value":0.656},{"step":499,"series":"B","value":0.646},{"step":500,"series":"B","value":0.645}
    ]
  },
  "layer": [
    {
      "data": {"name": "band"},
      "mark": {"type": "area", "fillOpacity": 0.2, "clip": true},
      "encoding": {
        "x": {"field": "step", "type": "quantitative", "scale": {"domain": [0, 500], "nice": false, "zero": false},
              "axis": {"values": [0, 100, 200, 300, 400, 500], "format": "d", "title": null,
                       "gridOpacity": {"condition": {"test": "datum.value == 0 || datum.value == 500", "value": 0}, "value": 1}}},
        "y": {"field": "lo", "type": "quantitative", "scale": {"domain": [0.033, 0.857], "nice": false, "zero": false},
              "axis": {"values": [0.1, 0.2, 0.3, 0.4, 0.5, 0.6, 0.7, 0.8], "format": ".1f", "title": null}},
        "y2": {"field": "hi"},
        "color": {"field": "series", "type": "nominal", "scale": {"domain": ["A", "B"], "range": ["#E76F51", "#006D77"]}, "legend": null}
      }
    },
    {
      "data": {"name": "mean"},
      "mark": {"type": "line", "strokeWidth": 11, "strokeJoin": "round", "strokeCap": "butt", "clip": true},
      "encoding": {
        "x": {"field": "step", "type": "quantitative"},
        "y": {"field": "value", "type": "quantitative"},
        "color": {"field": "series", "type": "nominal", "legend": null}
      }
    }
  ],
  "config": {
    "view": {"stroke": "black", "strokeWidth": 6},
    "axis": {
      "domain": false,
      "grid": true,
      "gridColor": "#e2e2e2",
      "gridWidth": 3.2,
      "gridDash": [12, 5.5],
      "ticks": true,
      "tickColor": "black",
      "tickWidth": 5.5,
      "tickSize": -16,
      "labelFont": "DejaVu Sans",
      "labelFontSize": 94,
      "labelColor": "black",
      "labelPadding": 36,
      "labelFlush": false,
      "labelOverlap": false
    }
  }
}
